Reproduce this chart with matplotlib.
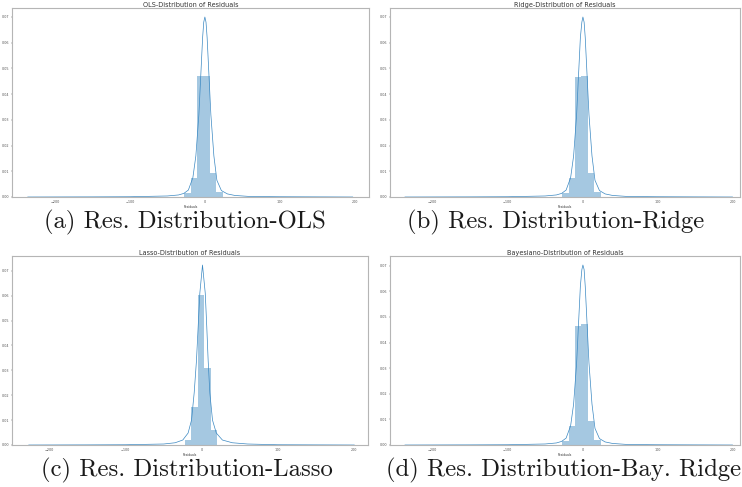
import matplotlib.pyplot as plt
import numpy as np

titles = ['OLS-Distribution of Residuals', 'Ridge-Distribution of Residuals',
          'Lasso-Distribution of Residuals', 'Bayesiano-Distribution of Residuals']
captions = ['(a) Res. Distribution-OLS', '(b) Res. Distribution-Ridge',
            '(c) Res. Distribution-Lasso', '(d) Res. Distribution-Bay. Ridge']

# histogram bin edges (only the bins around zero that are visible) and densities
ols_edges = [-27.8, -19.1, -10.5, -1.85, 6.8, 15.4, 24.1]
ols_heights = [0.0016, 0.0074, 0.0469, 0.0469, 0.0093, 0.0018]
ridge_edges = [-27.4, -18.8, -10.1, -1.5, 7.2, 15.8, 24.5]
ridge_heights = [0.0016, 0.0074, 0.0465, 0.0469, 0.0093, 0.0018]
lasso_edges = [-22.5, -14.0, -5.5, 3.0, 11.5, 20.0]
lasso_heights = [0.0020, 0.0152, 0.0603, 0.0308, 0.0062]
bay_edges = [-27.4, -18.8, -10.1, -1.5, 7.2, 15.8, 24.5]
bay_heights = [0.0016, 0.0075, 0.0465, 0.0472, 0.0094, 0.0018]

# kde curves
ols_kde_x = [-236, -150, -100, -50, -35, -28, -22, -16, -12, -8, -5, -3, -1.5, 0,
             1.5, 3, 5, 8, 12, 16, 22, 30, 40, 60, 100, 150, 197]
ols_kde_y = [0.0, 0.00005, 0.0001, 0.0004, 0.0008, 0.0014, 0.0027, 0.0075, 0.016, 0.032,
             0.050, 0.062, 0.068, 0.070, 0.068, 0.062, 0.050, 0.032, 0.016, 0.0065,
             0.0025, 0.0012, 0.0006, 0.0002, 0.0001, 0.00005, 0.0]
ridge_kde_x = [-237, -150, -100, -50, -35, -28, -22, -16, -12, -8, -5, -3, -1, 0.4,
               2, 3.5, 5.5, 8.5, 12.5, 16.5, 22.5, 30, 40, 60, 100, 150, 200]
ridge_kde_y = [0.0, 0.00005, 0.0001, 0.0004, 0.0008, 0.0014, 0.0027, 0.0075, 0.016, 0.032,
               0.050, 0.062, 0.068, 0.070, 0.068, 0.062, 0.050, 0.032, 0.016, 0.0065,
               0.0025, 0.0012, 0.0006, 0.0002, 0.0001, 0.00005, 0.0]
lasso_kde_x = [-227, -150, -100, -50, -35, -25, -18, -13.5, -10, -7, -4.8, -2.6, 0.9,
               4.5, 6.5, 8.3, 10.5, 14, 19, 27, 40, 60, 100, 150, 200]
lasso_kde_y = [0.0, 0.00005, 0.0001, 0.0004, 0.0009, 0.002, 0.0048, 0.010, 0.021, 0.034,
               0.0475, 0.061, 0.0723, 0.061, 0.0475, 0.034, 0.021, 0.010, 0.0048, 0.002,
               0.0009, 0.0004, 0.0001, 0.00005, 0.0]
bay_kde_x = [-237, -150, -100, -50, -35, -28, -22, -16, -12, -8, -5, -3, -1, 0.4,
             2, 3.5, 5.5, 8.5, 12.5, 16.5, 22.5, 30, 40, 60, 100, 150, 200]
bay_kde_y = [0.0, 0.00005, 0.0001, 0.0004, 0.0008, 0.0014, 0.0027, 0.0075, 0.016, 0.032,
             0.050, 0.062, 0.0685, 0.0703, 0.0685, 0.062, 0.050, 0.032, 0.016, 0.0065,
             0.0025, 0.0012, 0.0006, 0.0002, 0.0001, 0.00005, 0.0]

xticks = [-200, -100, 0, 100, 200]
yticks = [0.00, 0.01, 0.02, 0.03, 0.04, 0.05, 0.06, 0.07]

panels = [
    (ols_edges, ols_heights, ols_kde_x, ols_kde_y, (-257, 218.7)),
    (ridge_edges, ridge_heights, ridge_kde_x, ridge_kde_y, (-257, 210)),
    (lasso_edges, lasso_heights, lasso_kde_x, lasso_kde_y, (-249, 218)),
    (bay_edges, bay_heights, bay_kde_x, bay_kde_y, (-257, 210)),
]

W, H = 742, 487
# axes boxes in pixels: left, top, right, bottom
boxes = [(12, 8, 369, 197), (390, 8, 740, 197), (12, 256, 368, 445), (390, 256, 740, 445)]
cap_pos = [(184.5, 228), (556, 228), (187, 476), (563.5, 476)]

blue = '#1f77b4'
fig = plt.figure(figsize=(W / 100, H / 100), dpi=100)

for i, (edges, heights, kx, ky, xlim) in enumerate(panels):
    l, t, r, b = boxes[i]
    ax = fig.add_axes([l / W, 1 - b / H, (r - l) / W, (b - t) / H])
    edges = np.array(edges)
    ax.bar(edges[:-1], heights, width=np.diff(edges), align='edge',
           color=blue, alpha=0.4, linewidth=0)
    ax.plot(kx, ky, color='#3a88c2', linewidth=0.5)
    ax.set_xlim(*xlim)
    ax.set_ylim(0, max(ky) * 1.05)
    ax.set_xticks(xticks)
    ax.set_yticks(yticks)
    ax.set_yticklabels(['%.2f' % v for v in yticks])
    ax.tick_params(labelsize=2.4, length=1, width=0.3, pad=1.2, colors='#555555')
    ax.set_xlabel('Residuals', fontsize=2.2, labelpad=0.8, color='#333333')
    ax.set_title(titles[i], fontsize=4.7, pad=0.8, color='#333333')
    for s in ax.spines.values():
        s.set_color('#b5b5b5')
        s.set_linewidth(0.8)
    cx, cy = cap_pos[i]
    fig.text(cx / W, 1 - cy / H, captions[i], family='cmr10', fontsize=17.8,
             ha='center', va='baseline', color='#1a1a1a')

fig.savefig('out.png', dpi=100)
